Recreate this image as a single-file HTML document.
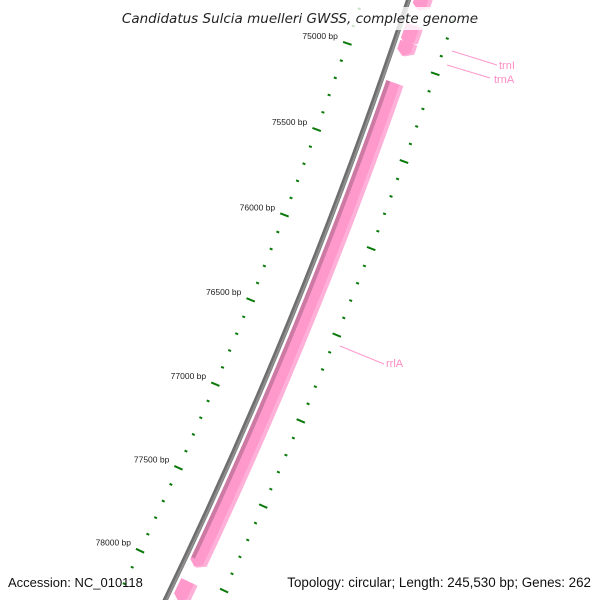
<!DOCTYPE html>
<html><head><meta charset="utf-8"><style>
html,body{margin:0;padding:0;background:#fff;overflow:hidden;width:600px;height:600px}
svg{display:block;overflow:hidden}
text{font-family:"Liberation Sans","DejaVu Sans",sans-serif}
</style></head><body>
<svg id="map" width="600" height="600" viewBox="0 0 600 600" xmlns="http://www.w3.org/2000/svg">
<g id="ticks"></g>
<g id="backbone"></g>
<g id="features"></g>
<g id="labels"></g>
<rect x="118" y="7" width="362" height="23" fill="#fff" opacity="0.78"/>
<text x="300" y="23" text-anchor="middle" font-size="13.5" font-style="italic" fill="#222" style="font-family:'DejaVu Sans',sans-serif">Candidatus Sulcia muelleri GWSS, complete genome</text>
<text x="8" y="587" font-size="13" fill="#111">Accession: NC_010118</text>
<text x="591" y="587" text-anchor="end" font-size="13.4" fill="#111">Topology: circular; Length: 245,530 bp; Genes: 262</text>
</svg>
<script>
const tickPositions = [74700,74800,74900,75000,75100,75200,75300,75400,75500,75600,75700,75800,75900,76000,76100,76200,76300,76400,76500,76600,76700,76800,76900,77000,77100,77200,77300,77400,77500,77600,77700,77800,77900,78000,78100,78200];
const featureNames = ["trnX","trnI","trnA","rrlA","rrsX"];
const featureStarts = [74600,74790,74888,75119,78038];
const featureEnds = [74705,74905,74967,77952,78157];
const labelNames = ["trnI","trnA","rrlA"];

const NS="http://www.w3.org/2000/svg";
const CX=-4366, CY=-1586;
const A0=19.07, DEG_PER_BP=0.0021;
function ang(bp){return (A0+(bp-75000)*DEG_PER_BP)*Math.PI/180;}
function pt(bp,r){const a=ang(bp);return [CX+r*Math.cos(a),CY+r*Math.sin(a)];}
function mk(tag,attrs,parent){const e=document.createElementNS(NS,tag);for(const k in attrs)e.setAttribute(k,attrs[k]);parent.appendChild(e);return e;}

const bb=document.getElementById('backbone');
function arcPath(r,b1,b2){const p1=pt(b1,r),p2=pt(b2,r);return `M${p1[0]},${p1[1]} A${r},${r} 0 0 1 ${p2[0]},${p2[1]}`;}
let e=mk('path',{d:arcPath(5031,74500,78350),stroke:'#6e6e6e',"stroke-width":5,fill:'none'},bb);


e=mk('path',{d:arcPath(5032,74500,78350),stroke:'#8f8f8f',"stroke-width":2,fill:'none'},bb);



const tg=document.getElementById('ticks');
tickPositions.forEach(bp=>{
  const major = bp%500===0;
  const len = major?9:3;
  [4987,5080].forEach((r,i)=>{
    const a=pt(bp,r-len/2), b=pt(bp,r+len/2);
    const t=mk('line',{x1:a[0],y1:a[1],x2:b[0],y2:b[1],stroke:'#0a7a0a',"stroke-width":2},tg);
    
    
  });
  if(major){
    const p=pt(bp,4977);
    const tx=mk('text',{x:p[0],y:p[1]-1,"text-anchor":"end","font-size":8.5,fill:'#222'},tg);
    tx.textContent=bp+' bp';
    
    
  }
});

const fg=document.getElementById('features');
function band(b1,b2,r1,r2,arrow){
  const pts=[];const n=40;const head=arrow?Math.min(28,(b2-b1)*0.4):0;
  for(let i=0;i<=n;i++){pts.push(pt(b1+(b2-head-b1)*i/n,r2));}
  if(arrow)pts.push(pt(b2,(r1+r2)/2));
  for(let i=n;i>=0;i--){pts.push(pt(b1+(b2-head-b1)*i/n,r1));}
  return pts.map(p=>p[0].toFixed(2)+','+p[1].toFixed(2)).join(' ');
}
featureNames.forEach((nm,i)=>{
  const g=mk('g',{},fg);
  
  
  const b1=featureStarts[i], b2=featureEnds[i];
  mk('polygon',{points:band(b1,b2,5036,5054,true),fill:'#ffb0d8'},g);
  mk('polygon',{points:band(b1,b2,5036,5050,true),fill:'#ff99cc'},g);
  if(b2-b1>500) mk('polygon',{points:band(b1,b2-40,5036,5040,false),fill:'#cc7aa3'},g);
});

const lg=document.getElementById('labels');
const lab=[[452,51,497,65,499,69],[447,65,490,78,494,83],[340,346,384,364,386,367]];
labelNames.forEach((nm,i)=>{
  const L=lab[i];
  const l=mk('line',{x1:L[0],y1:L[1],x2:L[2],y2:L[3],stroke:'#ff99cc',"stroke-width":1},lg);
  
  
  const t=mk('text',{x:L[4],y:L[5],"font-size":11,fill:'#ff8cc4'},lg);
  t.textContent=nm;
  
  
});
</script>
</body></html>
